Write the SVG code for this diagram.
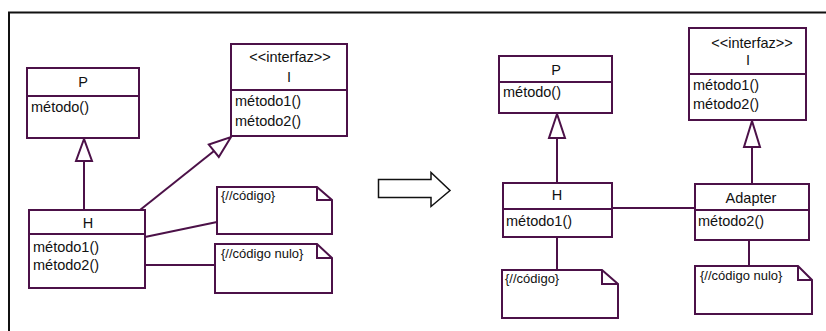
<svg xmlns="http://www.w3.org/2000/svg" width="826" height="331" viewBox="0 0 826 331">
<style>
.b{fill:#fff;stroke:#4c1148;stroke-width:2}
.l{fill:none;stroke:#4c1148;stroke-width:2}
.t{font-family:"Liberation Sans",Arial,sans-serif;font-size:14.5px;fill:#111}
.n{font-family:"Liberation Sans",Arial,sans-serif;font-size:13px;fill:#111}
.m{text-anchor:middle}
</style>
<rect width="826" height="331" fill="#fff"/>
<path d="M9,331 V12.5 H826" fill="none" stroke="#111" stroke-width="2"/>
<g id="connectors">
<line class="l" x1="84" y1="161" x2="84" y2="210"/>
<polygon class="b" points="84,139 76,161 92,161"/>
<line class="l" x1="140" y1="210" x2="214" y2="151"/>
<polygon class="b" points="231,137 218.8,157 208.8,144.6"/>
<line class="l" x1="145" y1="237" x2="217" y2="222"/>
<line class="l" x1="145" y1="265" x2="215" y2="265"/>
<line class="l" x1="557" y1="138" x2="557" y2="183"/>
<polygon class="b" points="557,114 549,138 565,138"/>
<line class="l" x1="752" y1="147" x2="752" y2="184"/>
<polygon class="b" points="752,121 744,147 760,147"/>
<line class="l" x1="612" y1="208" x2="695" y2="208"/>
<line class="l" x1="557" y1="237" x2="557" y2="270"/>
<line class="l" x1="749" y1="240" x2="749" y2="266"/>
</g>
<g id="arrow">
<polygon points="378.5,179.5 431,179.5 431,172.5 450,190.5 431,206.5 431,197.5 378.5,197.5" fill="#fff" stroke="#111" stroke-width="1.5"/>
</g>
<g id="P1">
<rect class="b" x="27" y="68" width="112" height="70"/>
<line class="l" x1="27" y1="96" x2="139" y2="96"/>
<text class="t m" x="83" y="87">P</text>
<text class="t" x="31" y="112">método()</text>
</g>
<g id="I1">
<rect class="b" x="231" y="44" width="116" height="92"/>
<line class="l" x1="231" y1="90" x2="347" y2="90"/>
<text class="t m" x="290" y="62">&lt;&lt;interfaz&gt;&gt;</text>
<text class="t m" x="289" y="82">I</text>
<text class="t" x="235" y="106">método1()</text>
<text class="t" x="235" y="126">método2()</text>
</g>
<g id="H1">
<rect class="b" x="29" y="210" width="116" height="78"/>
<line class="l" x1="29" y1="234" x2="145" y2="234"/>
<text class="t m" x="88" y="228">H</text>
<text class="t" x="33" y="252">método1()</text>
<text class="t" x="33" y="270">método2()</text>
</g>
<g id="note1">
<path class="b" d="M217,187 H317 L332,200 V234 H217 Z"/>
<path class="l" d="M317,187 V200 H332"/>
<text class="n" x="221" y="200">{//código}</text>
</g>
<g id="note2">
<path class="b" d="M215,244 H317 L332,258 V293 H215 Z"/>
<path class="l" d="M317,244 V258 H332"/>
<text class="n" x="221" y="258">{//código nulo}</text>
</g>
<g id="P2">
<rect class="b" x="499" y="56" width="113" height="57"/>
<line class="l" x1="499" y1="82" x2="612" y2="82"/>
<text class="t m" x="556" y="75">P</text>
<text class="t" x="503" y="97">método()</text>
</g>
<g id="I2">
<rect class="b" x="689" y="28" width="117" height="92"/>
<line class="l" x1="689" y1="74" x2="806" y2="74"/>
<text class="t m" x="752" y="48">&lt;&lt;interfaz&gt;&gt;</text>
<text class="t m" x="748" y="65">I</text>
<text class="t" x="693" y="90">método1()</text>
<text class="t" x="693" y="109">método2()</text>
</g>
<g id="H2">
<rect class="b" x="503" y="183" width="109" height="54"/>
<line class="l" x1="503" y1="209" x2="612" y2="209"/>
<text class="t m" x="557" y="200">H</text>
<text class="t" x="506" y="226">método1()</text>
</g>
<g id="Adapter">
<rect class="b" x="695" y="184" width="114" height="56"/>
<line class="l" x1="695" y1="210" x2="809" y2="210"/>
<text class="t m" x="751" y="203">Adapter</text>
<text class="t" x="698" y="226">método2()</text>
</g>
<g id="note3">
<path class="b" d="M502,270 H602 L618,284 V318 H502 Z"/>
<path class="l" d="M602,270 V284 H618"/>
<text class="n" x="505" y="283">{//código}</text>
</g>
<g id="note4">
<path class="b" d="M695,266 H798 L812,280 V314 H695 Z"/>
<path class="l" d="M798,266 V280 H812"/>
<text class="n" x="700" y="280">{//código nulo}</text>
</g>
</svg>
